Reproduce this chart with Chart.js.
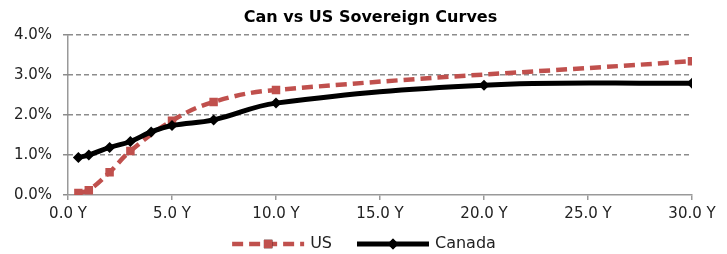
<!DOCTYPE html>
<html>
<head>
<meta charset="utf-8">
<script src="https://cdn.jsdelivr.net/npm/chart.js@4"></script>
<style>
  html, body { margin: 0; padding: 0; background: #fff; }
  #wrap { width: 727px; height: 254px; position: relative; }
</style>
</head>
<body>
<div id="wrap"><canvas id="curveChart"></canvas></div>
<script>
// tenors in years, yields in percent
const usTenors = [0.5, 1, 2, 3, 5, 7, 10, 30];
const usYields = [0.05, 0.12, 0.57, 1.1, 1.86, 2.33, 2.63, 3.35];
const canTenors = [0.5, 1, 2, 3, 4, 5, 7, 10, 20, 30];
const canYields = [0.94, 1.0, 1.19, 1.34, 1.58, 1.74, 1.88, 2.3, 2.75, 2.8];
const seriesNames = ['US', 'Canada'];

const FONT = "'DejaVu Sans', sans-serif";
const US_RED = '#C0504D';
const TEXT = '#222';

// Excel-style legend: a short line sample with the marker in the middle
const lineLegend = {
  id: 'lineLegend',
  afterDraw(chart) {
    const g = chart.ctx;
    const sw = 72, gap = 6, spacing = 25, cy = 244, center = 364;
    g.save();
    g.font = '16px ' + FONT;
    const items = chart.data.datasets.map(ds => ({ ds, w: g.measureText(ds.label).width }));
    const total = items.reduce((s, it) => s + sw + gap + it.w, 0) + spacing * (items.length - 1);
    let x = center - total / 2;
    items.forEach(({ ds, w }) => {
      g.strokeStyle = ds.borderColor;
      g.lineWidth = ds.borderWidth;
      g.setLineDash(ds.borderDash || []);
      g.beginPath();
      g.moveTo(x, cy); g.lineTo(x + sw, cy);
      g.stroke();
      g.setLineDash([]);
      Chart.helpers.drawPoint(g, {
        pointStyle: ds.pointStyle, radius: ds.pointRadius, borderWidth: 0
      }, x + sw / 2, cy);
      g.fillStyle = ds.borderColor;
      g.fill();
      g.fillStyle = TEXT;
      g.textBaseline = 'middle';
      g.textAlign = 'left';
      g.fillText(ds.label, x + sw + gap, cy);
      x += sw + gap + w + spacing;
    });
    g.restore();
  }
};

const ctx = document.getElementById('curveChart');

new Chart(ctx, {
  type: 'line',
  data: {
    datasets: [{
      label: seriesNames[0],
      data: usTenors.map((t, i) => ({ x: t, y: usYields[i] })),
      borderColor: US_RED,
      backgroundColor: US_RED,
      borderWidth: 4.5,
      borderDash: [11, 6],
      tension: 0.4,
      pointStyle: 'rect',
      pointRadius: 6,
      pointBorderWidth: 0,
      order: 2
    }, {
      label: seriesNames[1],
      data: canTenors.map((t, i) => ({ x: t, y: canYields[i] })),
      borderColor: '#000',
      backgroundColor: '#000',
      borderWidth: 5,
      tension: 0.4,
      pointStyle: 'rectRot',
      pointRadius: 5.5,
      pointBorderWidth: 0,
      order: 1
    }]
  },
  options: {
    responsive: true,
    maintainAspectRatio: false,
    animation: false,
    layout: { padding: { left: 14, right: 0, top: 0, bottom: 29 } },
    plugins: {
      title: {
        display: true,
        text: 'Can vs US Sovereign Curves',
        color: '#000',
        font: { family: FONT, size: 16, weight: 'bold' },
        padding: { top: 8, bottom: 8 }
      },
      legend: { display: false },
      tooltip: { enabled: false }
    },
    scales: {
      x: {
        type: 'linear',
        min: 0,
        max: 30,
        afterFit: scale => { scale.height = 30; },
        ticks: {
          stepSize: 5,
          color: TEXT,
          font: { family: FONT, size: 15 },
          padding: 5,
          maxRotation: 0,
          callback: v => v.toFixed(1) + ' Y'
        },
        grid: {
          color: c => (c.tick && c.tick.value === 0 ? '#999' : 'rgba(0,0,0,0)'),
          tickColor: '#999',
          tickLength: 5,
          lineWidth: 1.5
        },
        border: { display: true, color: '#999', width: 1.5 }
      },
      y: {
        min: 0,
        max: 4,
        afterFit: scale => { scale.width = 54; },
        ticks: {
          stepSize: 1,
          color: TEXT,
          font: { family: FONT, size: 15 },
          padding: 11,
          callback: v => v.toFixed(1) + '%'
        },
        grid: {
          color: c => (c.tick && c.tick.value === 0 ? 'rgba(0,0,0,0)' : '#8c8c8c'),
          tickColor: '#8c8c8c',
          tickLength: 5,
          lineWidth: 1.5
        },
        border: { display: false, dash: [5, 3] }
      },
      // empty right-hand axis keeps room for the last x label like the original
      yRight: {
        position: 'right',
        min: 0,
        max: 4,
        afterFit: scale => { scale.width = 35; },
        ticks: { display: false },
        grid: { display: false },
        border: { display: false }
      }
    }
  },
  plugins: [lineLegend]
});
</script>
</body>
</html>
